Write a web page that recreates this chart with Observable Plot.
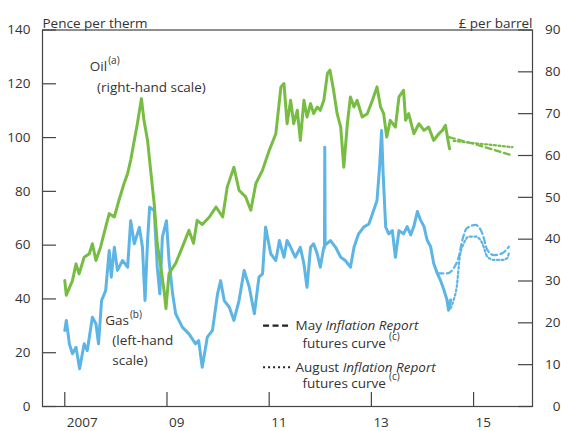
<!DOCTYPE html>
<html><head><meta charset="utf-8">
<script src="https://cdn.jsdelivr.net/npm/d3@7"></script>
<script src="https://cdn.jsdelivr.net/npm/@observablehq/plot@0.6"></script>
<style>body{margin:0;background:#fff}</style>
</head><body><div id="chart"></div>
<script>
// ---- data ----
const gasYears = [2007.00,2007.03,2007.09,2007.15,2007.22,2007.29,2007.38,2007.44,2007.54,2007.61,2007.66,2007.72,2007.80,2007.87,2007.91,2007.97,2008.03,2008.13,2008.23,2008.29,2008.36,2008.46,2008.52,2008.57,2008.62,2008.66,2008.75,2008.81,2008.86,2008.91,2008.99,2009.04,2009.11,2009.17,2009.30,2009.43,2009.56,2009.62,2009.69,2009.79,2009.89,2009.99,2010.05,2010.12,2010.22,2010.31,2010.41,2010.51,2010.61,2010.71,2010.80,2010.87,2010.93,2011.03,2011.13,2011.20,2011.29,2011.35,2011.42,2011.51,2011.61,2011.68,2011.74,2011.81,2011.87,2011.94,2012.00,2012.07,2012.082,2012.088,2012.095,2012.20,2012.30,2012.40,2012.49,2012.59,2012.66,2012.75,2012.85,2012.95,2013.02,2013.11,2013.16,2013.20,2013.23,2013.28,2013.34,2013.41,2013.47,2013.54,2013.63,2013.70,2013.77,2013.83,2013.90,2013.96,2014.03,2014.09,2014.16,2014.22,2014.29,2014.35,2014.42,2014.48,2014.51,2014.55];
const gasValues = [28.3,32,23.3,19.6,22,14,23.3,20.8,33.2,30.8,23.3,39.4,43.1,58,48.1,59.2,50.6,54.3,51.8,69.1,60.5,66.6,59.2,39.4,61.7,74.1,72.9,51.8,41.9,63,69.1,54.3,41.9,34.5,29.5,27,23.3,24.5,14.6,25.8,28.3,41.9,46.8,39.4,36.9,32,39.4,50.6,44.4,34.5,48.1,49.3,66.7,56.8,54.3,61.7,55.5,61.7,59.2,55.5,59.2,53,44.3,59.2,60.5,56.8,51.8,59.2,59,96.4,60,61.7,59.2,55.5,54.3,51.8,59.2,64.2,66.7,67.9,71.6,76.6,89,102.6,86.5,66.7,64.2,65.4,55.5,65.4,64.2,66.9,63.8,66.9,72.5,69.4,66.9,61.9,59.4,53.2,49.5,47,43.3,39.6,35.8,39.6];

const oilYears = [2007.00,2007.03,2007.15,2007.22,2007.28,2007.38,2007.48,2007.54,2007.61,2007.70,2007.80,2007.87,2007.97,2008.06,2008.16,2008.23,2008.29,2008.36,2008.42,2008.50,2008.55,2008.62,2008.68,2008.75,2008.81,2008.88,2008.95,2008.98,2009.04,2009.17,2009.30,2009.43,2009.52,2009.59,2009.69,2009.83,2009.96,2010.09,2010.18,2010.31,2010.41,2010.54,2010.64,2010.74,2010.87,2011.00,2011.13,2011.23,2011.29,2011.35,2011.42,2011.48,2011.55,2011.61,2011.68,2011.74,2011.81,2011.87,2011.94,2012.00,2012.07,2012.14,2012.19,2012.26,2012.33,2012.40,2012.46,2012.53,2012.59,2012.66,2012.72,2012.82,2012.92,2013.02,2013.11,2013.18,2013.24,2013.30,2013.37,2013.47,2013.54,2013.63,2013.67,2013.73,2013.83,2013.93,2014.03,2014.12,2014.22,2014.32,2014.39,2014.45,2014.50,2014.53];
const oilValues = [30.1,26.6,30.1,34.1,31.7,35.7,36.5,38.9,34.9,38.1,42.9,46.1,45.3,49.3,53.3,55.7,58.9,63.6,67.6,73.6,68.4,63.6,56.5,48.5,38.9,33.3,27,23.4,31.8,34.2,38.1,42.1,39,44.5,43.5,45.3,47.7,45.3,52.5,57.2,51.7,50.1,46.9,53.3,56.5,61.2,65.2,76.4,77.2,67.6,73.2,67.6,70.8,63.6,73.2,69.2,72.4,70,71.6,70.8,73.2,79.6,80.4,75.6,70,66.8,57.2,67.6,74,71.6,73.2,69.2,70,73.2,76.4,71.6,70,64.4,68.4,66.8,74,75.6,68.4,70,65.2,67.6,66,66.8,63.6,65.2,66,67.2,63.6,61.6];

// futures curves
const gasMayYears = [2014.29,2014.48,2014.61,2014.71,2014.78,2014.87,2015.04,2015.17,2015.27,2015.40,2015.56,2015.69];
const gasMayValues = [49.5,49.5,51.4,55.7,61.9,66.3,67.5,64.4,58.2,56.3,57,59.4];
const gasAugYears = [2014.55,2014.61,2014.67,2014.73,2014.81,2014.91,2015.04,2015.17,2015.27,2015.40,2015.56,2015.66,2015.69];
const gasAugValues = [36.5,39.6,44.5,55.7,60.7,63.2,63.2,60.7,55.7,54.5,54.5,55.2,57];
const oilMayYears = [2014.52,2015.14,2015.76];
const oilMayValues = [64.4,62.3,60.0];
const oilAugYears = [2014.61,2015.14,2015.76];
const oilAugValues = [63.5,62.8,62.0];

// axes
const leftTicks = [0,20,40,60,80,100,120,140];
const rightTicks = [0,10,20,30,40,50,60,70,80,90];
const xTicks = [2007,2009,2011,2013,2015];
const xTickLabels = ["2007","09","11","13","15"];

// ---- build ----
const k = 140/90; // oil (right scale) -> left-scale units
const zip = (ts, vs, f = 1) => ts.map((t, i) => ({t, v: vs[i] * f}));
const gas = zip(gasYears, gasValues);
const oil = zip(oilYears, oilValues, k);
const gasMay = zip(gasMayYears, gasMayValues);
const gasAug = zip(gasAugYears, gasAugValues);
const oilMay = zip(oilMayYears, oilMayValues, k);
const oilAug = zip(oilAugYears, oilAugValues, k);

const GREEN = "#78bd43", BLUE = "#5cb5e5", INK = "#333";
const FONT = "'Open Sans', sans-serif", FS = 13.5, SUP = 10;
const W = 561, H = 431, mL = 42, mR = 29, mT = 29.5, mB = 25;
const innerW = W - mL - mR, innerH = H - mT - mB;

// text width measurement for placing superscripts / italic runs
const ctx = document.createElement("canvas").getContext("2d");
const tw = (s, style = "") => { ctx.font = `${style} ${FS}px ${FONT}`; return ctx.measureText(s).width; };

const label = (s, x, y, o = {}) => Plot.text([s], {x, y, text: d => d, textAnchor: "start", ...o});

const chart = Plot.plot({
  width: W, height: H,
  marginLeft: mL, marginRight: mR, marginTop: mT, marginBottom: mB,
  style: {fontFamily: FONT, fontSize: FS + "px", color: INK, background: "#fff"},
  x: {type: "linear", domain: [2006.564, 2016.153], label: null},
  y: {domain: [0, 140], label: null},
  marks: [
    Plot.frame({stroke: "#444", strokeWidth: 1.2}),
    // inward tick marks
    Plot.tickX(xTicks, {x: d => d, insetTop: innerH - 14, stroke: "#444", strokeWidth: 1.2}),
    Plot.tickY(leftTicks, {y: d => d, insetRight: innerW - 14, stroke: "#444", strokeWidth: 1.2}),
    Plot.tickY(rightTicks.map(d => d * k), {y: d => d, insetLeft: innerW - 14, stroke: "#444", strokeWidth: 1.2}),
    // axis labels
    Plot.axisX(xTicks, {tickSize: 0, tickPadding: 11, textAnchor: "start", dx: 2, tickFormat: d => xTickLabels[xTicks.indexOf(d)], label: null}),
    Plot.axisY(leftTicks, {anchor: "left", tickSize: 0, tickPadding: 12, label: null}),
    Plot.axisY(rightTicks.map(d => d * k), {anchor: "right", tickSize: 0, tickPadding: 28, textAnchor: "end", tickFormat: d => String(Math.round(d / k)), label: null}),
    Plot.text(["Pence per therm"], {frameAnchor: "top-left", dy: -12, textAnchor: "start", text: d => d}),
    Plot.text(["£ per barrel"], {frameAnchor: "top-right", dy: -12, textAnchor: "end", text: d => d}),
    // series
    Plot.line(gas, {x: "t", y: "v", stroke: BLUE, strokeWidth: 3, strokeLinejoin: "round"}),
    Plot.line(oil, {x: "t", y: "v", stroke: GREEN, strokeWidth: 3, strokeLinejoin: "round"}),
    Plot.line(gasMay, {x: "t", y: "v", stroke: BLUE, strokeWidth: 2.2, strokeDasharray: "6,3.5", curve: "monotone-x"}),
    Plot.line(gasAug, {x: "t", y: "v", stroke: BLUE, strokeWidth: 2.2, strokeDasharray: "2,2.5", curve: "monotone-x"}),
    Plot.line(oilMay, {x: "t", y: "v", stroke: GREEN, strokeWidth: 2.2, strokeDasharray: "6,3.5"}),
    Plot.line(oilAug, {x: "t", y: "v", stroke: GREEN, strokeWidth: 2.2, strokeDasharray: "2,2.5"}),
    // annotations
    label("Oil", 2007.49, 126.2),
    label("(a)", 2007.49, 126.2, {dx: tw("Oil") + 1, dy: -6, fontSize: SUP}),
    label("(right-hand scale)", 2007.63, 118.7),
    label("Gas", 2007.79, 32),
    label("(b)", 2007.79, 32, {dx: tw("Gas") + 1, dy: -6, fontSize: SUP}),
    label("(left-hand", 2007.93, 24.5),
    label("scale)", 2007.93, 17.1),
    // legend
    Plot.ruleY([30.1], {x1: 2010.89, x2: 2011.42, stroke: "#222", strokeWidth: 2.2, strokeDasharray: "6,3.5"}),
    Plot.ruleY([14.6], {x1: 2010.89, x2: 2011.42, stroke: "#222", strokeWidth: 2.2, strokeDasharray: "2,3"}),
    label("May", 2011.515, 30.1),
    label("Inflation Report", 2011.515, 30.1, {dx: tw("May "), fontStyle: "italic"}),
    label("futures curve", 2011.65, 23.4),
    label("(c)", 2011.65, 23.4, {dx: tw("futures curve") + 3, dy: -7, fontSize: SUP}),
    label("August", 2011.515, 14.6),
    label("Inflation Report", 2011.515, 14.6, {dx: tw("August "), fontStyle: "italic"}),
    label("futures curve", 2011.65, 8.4),
    label("(c)", 2011.65, 8.4, {dx: tw("futures curve") + 3, dy: -7, fontSize: SUP})
  ]
});
document.getElementById("chart").append(chart);
</script>
</body></html>
